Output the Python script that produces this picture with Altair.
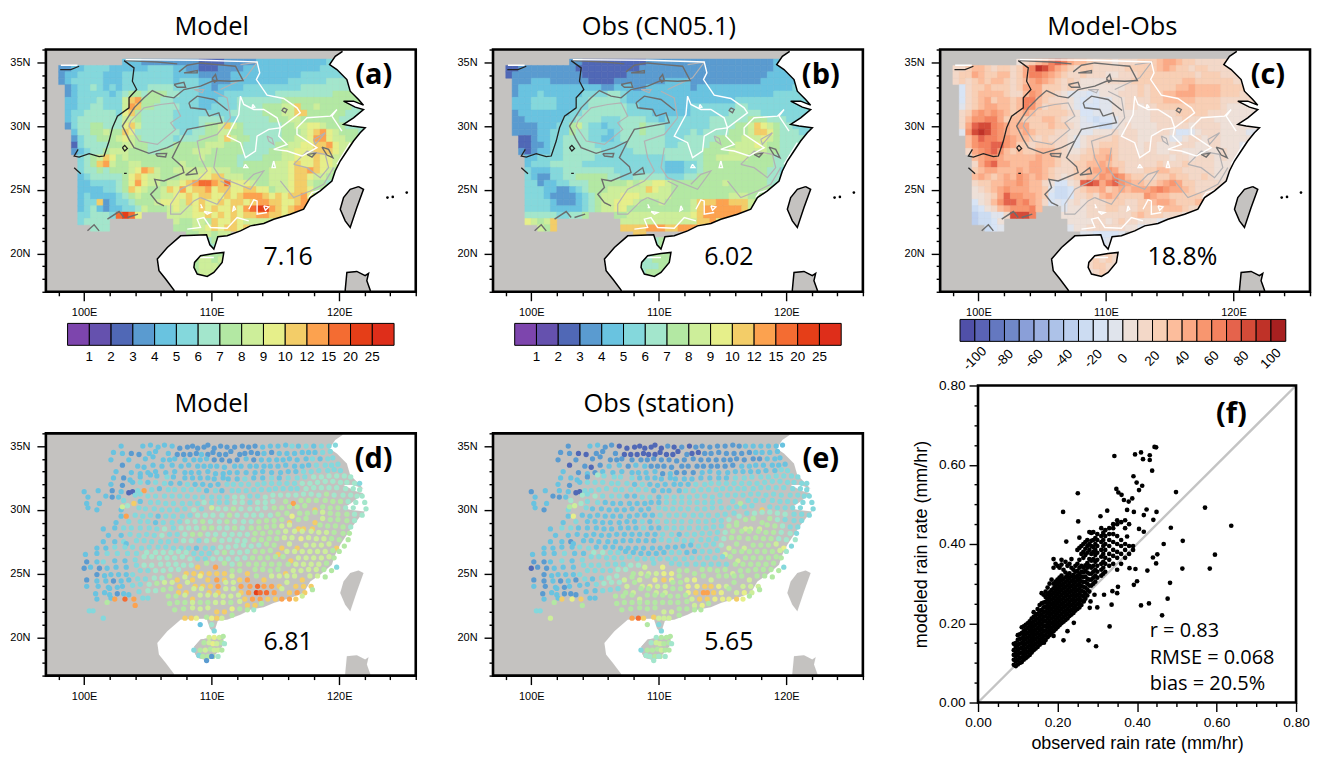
import altair as alt
import pandas as pd

# ---------- colour tables ----------
RAIN_COLORS = ["#7d45ad", "#6551ae", "#5068b6", "#5a9bd0", "#69c3e0", "#84d8dc", "#a3e6cc", "#b3e8a3",
               "#cdee9a", "#e6ef8a", "#f3cd68", "#fca24f", "#f46c32", "#e53e18", "#de2e1a"]
RAIN_LABELS = ["1", "2", "3", "4", "5", "6", "7", "8", "9", "10", "12", "15", "20", "25"]
DIFF_COLORS = ["#5050a8", "#5a63b5", "#6478c0", "#7088c8", "#8a9fd8", "#9cb0e0", "#adc2e8", "#bccfee",
               "#ccdcf2", "#d8e4f5", "#e0e4ec", "#eee0d8", "#f3d8c8", "#f8cfb5", "#fcbd9c", "#fba985",
               "#f8966f", "#f4825f", "#e5634c", "#d44b38", "#bf3228", "#a82020"]
DIFF_LABELS = ["-100", "-80", "-60", "-40", "-20", "0", "20", "40", "60", "80", "100"]
LAND = "#c4c2c0"

# ---------- gridded classes, 0.5 deg cells, rows from 35N going south, columns from 98E ----------
FIELD_A = [
".......... 4443333333 3322223333 3444444444 4455555555",
"3344555544 4444555544 3322233334 4444444444 4555555555",
"3445555444 5555555544 4433333444 4444444455 5555556666",
"3455555444 5555555545 5544333444 4444445555 5566666666",
".345565454 5555666655 5544344445 5555555566 6666666666",
".345555545 6776777665 5544445555 5555666666 6667777777",
".445556555 8ab7776655 5544455566 6666677777 7777777766",
".445566555 8ba7766665 5544555566 6677788a77 8777776666",
".455666665 9a76666655 5555555666 6677788aa7 7777766666",
".456666666 8876666655 5566665566 6667778877 7777666666",
".356677666 9a86666655 556778a876 6666677889 9877766666",
"..46677877 a966666665 5667788776 6666677789 ab98777666",
"..35667778 9876666656 667778a877 6666677889 bb98877666",
"..25666677 8877666677 7778887776 6666778899 aab9887766",
"..34566788 8777667777 7888777776 6667788999 aaa9887766",
"...5678a97 8777777777 7787777766 6677788999 a998877666",
"...567ab87 7887777778 7777777767 7777889a99 a998776666",
"...5667677 789ba87788 8889888777 7778889aab a987766666",
"...4566666 79a9887778 8899aa8887 7778889aa9 8877666666",
"...4455556 79b9887889 abccbac999 8778889aa8 7766666666",
"...4444556 7a98778a9b 9aab9aa99a a997889aa9 7766666666",
"...4544445 6787778899 a9aa99a9ab bba9a9aab9 7766666666",
"...455a345 5677789998 a9a99a9aa9 abbaa99abb 9777666666",
"...4564344 5568777898 89a9a99a9b cddba9abba 9877666666",
"...556665c dc9....888 899a9a9a9a abbaa9aa99 8666666666",
"...56666.. ........87 7887a99a98 8888888777 7777777777",
".....666.. ........77 7889a9aa9a 88777..... ..........",
".......... .......... 7788788... .......... ..........",
".......... .......... ...677.... .......... ..........",
".......... .......... ...566.... .......... ..........",
".......... .......... .6777777.. .......... ..........",
".......... .......... 77887877.. .......... ..........",
".......... .......... .78887777. .......... ..........",
".......... .......... .7888777.. .......... ..........",
".......... .......... ...77..... .......... ..........",
]
FIELD_B = [
".......... 3322222222 2233333333 3333333333 3344444444",
"2233333333 3222222222 2333333333 3333333333 3344444444",
"2333333333 3322222223 3333333333 3333333333 3444444444",
".333444333 3332222333 3333344443 3333333333 4444444555",
".344444444 4444433444 3344444443 4444444444 4444455555",
".344454444 4455556654 4444444444 4444444444 4455555555",
".444555544 4556666654 4444444444 4444445555 5555555555",
".444555544 4556666665 5444444445 5555556655 5555555555",
".344444444 5566666665 5554444445 5555566666 5555555555",
".334444445 5666655566 6655455555 5566666677 7666555555",
".333344455 7865545566 6766655555 556666778a 9876655555",
".333344555 7665554566 6766655556 566667778a a976665555",
"..22344556 6665544566 6666655566 6667777888 9876666555",
"..22334556 6666555556 6666655666 6677778889 8776666555",
"..32344556 6666655555 6666666666 6777788888 8776665555",
"...4455556 6666555555 5555566666 6778888877 7766655555",
"...4555666 6655555555 5555544455 6777777777 7766555555",
"...5444556 6666666555 5555544455 6777777777 7665555555",
"...5433556 6777776655 6666655566 7777777777 7665555555",
"...5534455 6667777778 7889987777 7777877777 7665555555",
"...5554433 4567778888 88a9887777 7777777777 7766665555",
"...5554333 3456788899 9888887777 7777788877 7666555555",
"...5555433 3456788999 8777877778 aaabbaaa88 7766555555",
"...5555444 4456788997 7777777778 abbbbbba88 7766666666",
"...6666655 667....778 8888888889 abbbbbbaa8 7666666666",
"...9878a.. ........88 8888888888 aab99..... ..........",
".....87a.. ........aa aabbbaabbb .......... ..........",
".......... .......... aa........ .......... ..........",
".......... .......... ...677.... .......... ..........",
".......... .......... ...677.... .......... ..........",
".......... .......... .6677777.. .......... ..........",
".......... .......... 66677777.. .......... ..........",
".......... .......... .66677777. .......... ..........",
".......... .......... .6777777.. .......... ..........",
".......... .......... ...77..... .......... ..........",
]
FIELD_C = [
".......... bcdefhihfe edcccbcccd ddeffeddcc cccccccccc",
"ccdeedcddc dfhkjhfedc ddcccccddd ddefeddcdd cccccccccc",
"cddfeddeec dfhhgfedcc dcccbbcccd ddddddddcd ddcccccccc",
"cdcdedeedc defgfedcdc bbbbccccdd ddddddeedd ddddcccccc",
".9cddedddc dfffdddcdc bbbbbbbccd cddddeefee eedddddccc",
".9cdeeeedc cegfddcbaa a9abbbcccd cddeefffee eedddccccc",
".9cdefdeed ehhedcccba 9a9aabbccc cddeeeeedd ddcccccccc",
".acdeffeed ehgecddcba 999aabbccb ccdddddddd ddcbbbbbbb",
".cdfgfgfed efedddddcb 99aaabbbbb bccccddddd cccbbbbbbb",
".cegghhfde edddeedcbb a9899abbbb bcccccdccc cbbbbbbbbb",
".cfijjhgfe ffdddeddcb aa988abcbb bbcccccbcc ccbbbbbbbb",
".agjkjhgfe efedddccbb aabbbcbccb bbccb99abc ccbbbbaaaa",
"..egihhggf eedcdcccba bccccdcccb bccbaabccb ccbbbbbaaa",
"..eghhiigf ddcdddccba bccdddcccb ccbbbcccbb ccbbbaaaaa",
"..cfghiged eddeeedcbb cddeedcccb ccbbccbbbb bbcbbaaaaa",
"...efggfee eeefeedccc ddeefdcccc ccccbccbcc cbcbbaaaaa",
"...cfhiffe eeffeedccd deefeddccc ccdcccdccc cbbbaaaaaa",
"...deffeee feffedcccd deffgfdccc ddeeddcccc cbbbaaaaaa",
"...efedefe gfefedcbcd deegfhgedd ccddeddccd cbbaaaaaaa",
"...cddeeff gfeecb99bc ijifhigfee ddefgfddcc ccbaaaaaaa",
"...bcdefgf ffeeda889c deefdefeff fghgffedcc ccbaaaaaaa",
"...bbcdfig gffed9889c cdcefedddd gfeedddddc cbbaaaaaaa",
"...9bcegii ghfec9a9bc bcccdddccd deffedddef dcaaaaaaaa",
"...89bcefg gghe...abb bcccddcccd dddeeedccc baaaaaaaaa",
"...788aacj jjh....bbb bcccccccde dddcccbbba aaaaaaaaaa",
"...7889b.. ........bb bbccbcdccb bbaaaaaaaa aaaaaaaaaa",
".....89a.. ........ab bccccccbba aa9....... ..........",
".......... .......... aa9999a... .......... ..........",
".......... .......... ...9ab.... .......... ..........",
".......... .......... ...9a..... .......... ..........",
".......... .......... .bccdc.... .......... ..........",
".......... .......... bcdcdcc... .......... ..........",
".......... .......... .cddccbb.. .......... ..........",
".......... .......... .bcdcbb... .......... ..........",
".......... .......... ...bb..... .......... ..........",
]

# ---------- stations: lat row -> tokens LLLL (lon x10) J (lat nudge) M (model class) O (obs class) ----------
STATIONS = {
35.0: "1029543 1046544 1052644 1058443 1063643 1069542 1075332 1081432 1085532 1089332 1094432 1097632 1102332 1107533 1112432 1118433 1124532 1129433 1134533 1140443 1146543 1152543 1158643 1163553 1168544 1174554 1180544 1186554 1192554 1197654",
34.5: "1023543 1030443 1037432 1043332 1051443 1056643 1066443 1073332 1078332 1083332 1088432 1092342 1097332 1101532 1106332 1111332 1115632 1122333 1126432 1131532 1136433 1141443 1147533 1153443 1159443 1165443 1171543 1176544 1181544 1187554 1193654",
34.0: "1021443 1035443 1048543 1054743 1062443 1067443 1071543 1079443 1086443 1091443 1096543 1102433 1108433 1114333 1120433 1127543 1133433 1139443 1145443 1151443 1156443 1161543 1167443 1174543 1179553 1185544 1191554 1195654",
33.5: "1030532 1042443 1047342 1054543 1061444 1069544 1076443 1082544 1089444 1094443 1099443 1104443 1110343 1118443 1123443 1130443 1135443 1141443 1146443 1152443 1158543 1165444 1171444 1176544 1182554 1189554 1194554 1199654",
33.0: "1025544 1037443 1044344 1050443 1056544 1064444 1071544 1079444 1084444 1090444 1097544 1103343 1109344 1114443 1120443 1127443 1134444 1140544 1147444 1154444 1160544 1166544 1172554 1178554 1184654 1191654 1196755 1201655",
32.5: "1023544 1031534 1036344 1044643 1052846 1057745 1065655 1070645 1079545 1085544 1091544 1097544 1102444 1109544 1113444 1120444 1126454 1133544 1140544 1147554 1153544 1160555 1167555 1173655 1180665 1186665 1192765 1198765 1204765 1209665",
32.0: "1021544 1030433 1038744 1044755 1050745 1056755 1063655 1068645 1075645 1081554 1087545 1093544 1099444 1105544 1112554 1117554 1123554 1129555 1136555 1141655 1147655 1153655 1159655 1165655 1171665 1177665 1183765 1189865 1195865 1201765 1206765 1212665 1216655",
31.5: "1000443 1011544 1022534 1029444 1035322 1038422 1042555 10475b5 1053655 1059745 1066655 1071655 1078655 1084655 1090655 1096544 1103554 1108544 1116554 1121555 1127555 1133655 1139655 1145655 1150755 1156755 1162755 1167755 1174765 1180865 1186865 1192865 1198865 1205765 1211765 1216665",
31.0: "1003544 1017643 1022533 1027544 1040756 1044855 1050656 1056655 1063655 1069655 1075654 1081654 1087555 1093555 1100554 1106555 1112555 1118565 1124565 1130655 1136655 1142565 1148765 1154765 1160765 1166765 1172865 1178865 1184765 1190875 1196765 1203765 1209765 1214665 1218665",
30.5: "1002544 1012544 1031856 10395a6 1044745 1052655 1058654 1064554 1070554 1077554 1083554 1089554 1094664 1100654 1106655 1112655 1118665 1124665 1130655 1136665 1142665 1148765 1158775 11645b7 1170875 1176875 1182875 1189875 1195775 1201775 1207765 1213665 1220665",
30.0: "1003744 1010543 1029545 1030887 1034968 1043755 1048654 1055654 1061554 1067554 1073554 1079654 1086564 1092654 1100785 1105665 1111665 1117675 1123665 1130665 1136665 1142765 1149775 1155775 1161875 1167875 1173975 11815aa 1187875 1193775 1199775 1205765 1211765 1221665",
29.5: "1029544 10335b9 1040654 1046554 1052654 1058544 1064554 1070554 1077554 1083654 1089664 1095664 1101665 1108665 1114675 1120665 1127665 1133665 1139665 1146665 1152775 1159875 1163596 1169875 1175876 1181976 1187986 1193876 1199776 1206775 1212765 1218665",
29.0: "1025544 1035655 1044654 1050654 1056544 1062554 1069554 1075654 1081664 1087665 1093674 1099665 1106665 1112675 1118665 1125665 1131665 1137675 1143775 1149775 1155876 11615a7 1168877 1174977 11815a7 1187987 1193876 1199875 1206775 1212765",
28.5: "1015544 1024645 1031655 1037654 1044654 1051654 1057554 1063564 1070654 1076664 1082664 1088665 1094674 1100674 1106665 1112665 1118675 1124665 1131675 1137675 1143775 1149875 1155887 1161987 11685a8 11725a8 11795a8 1185977 1191877 1197876 1203775 1209765",
28.0: "1019544 1029544 1036654 1043554 1049654 1055554 1061564 1067654 1073654 1079664 1085674 1091674 1097664 1103665 1110665 1116664 1122665 1128665 1134775 1140775 1146875 1152876 1158987 1165987 1171987 1178987 1184887 1190887 1196876 1203776 1208775",
27.5: "1015544 1024544 1031553 1033344 1041654 1047654 1053554 1060554 1066554 1072654 1078664 1084664 1090654 1096664 1102775 1108665 1114765 1120665 1126665 1133775 1139775 1145875 1151876 1157987 1163987 1170897 1176987 1182887 1188887 1194876 1200776 1207776",
27.0: "1010544 1017544 1024654 1032654 1038655 1045555 1051654 1058654 1064654 1070554 1076554 1082554 1088544 1095554 1101554 1107664 1113664 1119764 1125864 1131765 1137865 1143975 1149876 11555a8 1161987 11675a8 1174887 1180887 1186887 1192988 11985a9 1204775",
26.5: "1001544 1010644 1018654 1026655 1034654 1041654 1049766 1056766 1062765 1068765 1074864 1080764 1086654 1092654 1098654 1104764 1110775 1116765 1122764 1128864 1134875 1140875 1146975 11525a8 1159887 1165887 1171887 1177887 1183887 1189887 1195978 1200876",
26.0: "1002433 1010443 1015454 1024545 1032544 1040655 1047965 1053965 1059865 1065865 1071865 1077965 1083765 1089755 1095755 1101765 1107765 1113765 1120765 1126865 1132875 1138875 1144875 1150975 1156977 11625a8 1168887 1174887 1180887 1186887 1192987 1196877",
25.5: "1000432 1005543 1012433 1018444 1025544 1033544 1041755 1047765 1053765 1060865 1066865 1072865 1078766 1084766 10895a8 1096975 11035b9 1110975 1116865 1122875 1129875 1135875 1141875 1147875 1153875 1160877 1166887 1172887 1178887 1184887 1190977 1198555",
25.0: "1010433 1016344 1021444 1027444 1033444 1038455 1044855 1050855 1056865 1062865 1068966 1074966 10805a7 10865a8 10925a8 10985a8 11045a9 11105a9 1116877 1122877 11285a7 1134977 1140977 1146877 1152977 11585a8 1164887 1170887 1176987 1182987 1188977 1194877",
24.5: "1002533 1010443 1017444 1023433 1029444 1035543 1042655 1048654 1055765 1061766 1067976 10735a8 1079887 10855a8 1091997 10975a9 11045ba 11105a9 1116987 11225a8 11285b9 1135977 11415a8 1147987 1153987 1159987 1165987 11715a8 1177987 1183987 1189877",
24.0: "1002544 1011543 1019444 1020344 1026443 1030544 1038654 1044754 1051765 1057876 1063986 1069986 10755a8 1081987 10875a8 10935a9 10995a8 11055b8 1111987 1117987 11235b9 11305b9 11365ca 11415ba 11475b9 11535a8 1159987 11665a8 11725a8 11785a8",
23.5: "1009443 1016544 1020344 1026433 1031443 1035343 1043654 1050764 1056765 1062875 1068975 10745a7 10805a8 1086987 1092987 10985a8 11055a8 1111987 1117987 11235a9 11295ba 11355db 11385cb 11435ca 11495b9 1155987 11615a8 11675b9 11735a8 1179877",
23.0: "1010544 1021644 10245ba 10325c9 10395ba 1046654 1050654 1066877 1072877 1079987 10855a8 1091987 1097987 1103987 1109887 1115887 1121987 11265a8 11325ba 11385ba 11445a9 11505a9 11555b9 11615ba 11665a9 1171887",
22.5: "1018877 10405b7 1067777 1073877 1079877 1085887 1091877 1097877 1103887 1109887 1115877 1122987 11285a8 11345a9 1139777",
22.0: "1004655 1007655 1071777 1078877 1085987 1091887 1097987 11045a8 11105a8 1116897 1122877 1128777 1133767",
21.5: "1015558 10795ab 10845ac 108859a 109667a 1100598 11045a8 1108588 1116877",
21.0: "1091547 1100565",
20.5: "1102555",
20.0: "1098586 1102597 1106587 1109677",
19.5: "1094676 1098688 1101598 1104587 1108677 1110566",
19.0: "1086555 1091577 1095587 1099677 1102588 1105587 1108577",
18.5: "1090656 1093576 1097577 1101577 1105566 1096136 1100536",
}

# ---------- scatter (f): first token x, others y, in thousandths ----------
CLOUD = """090 095 108 120 132 148
095 092 104 116 128 140 150
100 096 108 120 132 145 158 170
105 100 112 124 136 148 160 172
110 102 114 126 138 150 162 175 190
115 108 120 132 144 156 168 180 192
120 112 124 136 148 160 172 184 196
125 116 128 140 152 164 176 188 200
130 120 132 144 156 168 180 192 205
135 126 138 150 162 174 186 198 212
140 132 144 156 168 180 192 204 216 228
145 136 148 160 172 184 196 208 220
150 140 152 164 176 188 200 212 224 236
155 146 158 170 182 194 206 218 230 246
160 150 162 174 186 198 210 222 234 250 276
165 156 168 180 192 204 216 228 240 252 272
170 158 170 182 194 206 218 230 242 254 266 280
175 165 177 189 201 213 225 237 249 261 273 290
180 170 182 194 206 218 230 242 254 266 278 300
185 176 188 200 212 224 236 248 260 272 284 310
190 180 192 204 216 228 240 252 264 276 288 300 340 362
195 185 197 209 221 233 245 257 269 281 293 305 350
200 190 202 214 226 238 250 262 274 286 298 310 345
205 195 207 219 231 243 255 267 279 291 303 315 340
210 200 212 224 236 248 260 272 284 296 308 320 348 360
215 204 216 228 240 252 264 276 288 300 312 335
220 208 220 232 244 256 268 280 292 304 316 328 355
225 212 224 236 248 260 272 284 296 308 320 345
230 218 230 242 254 266 278 290 302 314 326 350
235 222 234 246 258 270 282 294 306 318 340 362
240 226 238 250 262 274 286 298 310 322 335
245 232 244 256 268 280 292 304 316 330 345
250 236 248 260 272 284 296 308 320 332 350 385
255 240 252 264 276 288 300 312 324 340 360 390
260 246 258 270 282 294 306 318 330 345 375 395
265 256 268 280 292 304 316 328 340 365 380 400
270 262 276 290 304 318 332 346 372 388 405
275 270 285 300 312 328 340 352 378 395 410
280 280 295 310 325 345 362 385 400 430
285 295 310 325 340 358 375 395 408 428
290 300 315 330 345 362 380 392 410 430
295 305 320 335 355 372 385 400 415
300 315 330 345 360 378 395 410 425
310 320 335 350 368 385 405 420 440
315 325 340 355 375 395 410 428
320 330 350 365 385 400 420 435
330 345 360 375 395 410 425 440
340 350 370 385 405 425 440 450
350 335 365 380 400 420 450 460
360 350 375 395 410 455
370 365 385 400 440 460
380 375 395 450
390 385 395"""
OUTLIERS = [(.444,.645),(.448,.644),(.343,.622),(.395,.626),(.41,.631),(.432,.624),(.415,.614),(.432,.612),(.438,.585),(.391,.571),
 (.399,.555),(.413,.547),(.405,.536),(.251,.528),(.348,.539),(.353,.53),(.361,.524),(.367,.511),(.388,.515),(.379,.507),(.498,.531),
 (.571,.492),(.214,.481),(.325,.484),(.424,.487),(.449,.481),(.417,.473),(.392,.481),(.375,.486),(.308,.47),(.252,.457),(.441,.461),
 (.637,.446),(.485,.441),(.405,.438),(.417,.431),(.515,.408),(.467,.4),(.222,.406),(.255,.416),(.596,.373),(.44,.366),(.451,.374),
 (.448,.351),(.583,.338),(.514,.338),(.426,.333),(.396,.337),(.381,.339),(.483,.302),(.4,.306),(.392,.297),(.352,.292),(.338,.281),
 (.35,.276),(.477,.262),(.43,.25),(.41,.245),(.336,.247),(.3,.24),(.281,.239),(.463,.22),(.331,.192),(.278,.157),(.297,.142),(.215,.157),
 (.241,.201),(.225,.18),(.19,.168),(.166,.151),(.317,.272),(.293,.272),(.283,.255),(.266,.255),(.375,.419)]

# ---------- map outlines digitised on a grid of 38.35 units per degree (origin: 100E at 250, 35N at 183) ----------
COAST = [(1027,130),(1027,150),(1005,165),(988,190),(1010,205),(1040,235),(1050,270),(1075,295),(1090,312),(1060,300),(1030,300),(1065,318),(1090,325),
 (1060,350),(1030,370),(1055,375),(1095,380),(1080,395),(1060,420),(1040,450),(1020,480),(1005,510),(995,540),(960,570),(930,590),(910,625),(870,640),
 (820,655),(790,668),(750,675),(720,690),(680,705),(652,708),(645,730),(640,745)]
COAST2 = [(640,745),(628,732),(618,702),(580,703),(540,705),(500,740),(470,775),(475,810),(495,835),(520,868),(525,890)]
HAINAN = [(640,758),(670,755),(665,785),(640,815),(620,827),(590,820),(580,800),(582,785),(600,765),(640,758)]
TAIWAN = [(1075,557),(1090,565),(1070,620),(1050,680),(1035,660),(1020,625),(1030,590),(1050,565),(1075,557)]
LUZON = [(1035,890),(1035,868),(1040,815),(1070,812),(1095,825),(1105,818),(1100,840),(1110,868),(1115,890),(1035,890)]
SEA_CORNERS_A = [(1270,130)]
SEA_CORNERS_B = [(1270,890)]
ISLETS = [(1162,590),(1178,588),(1220,575)]

BLACK = [[(370,178),(400,200),(395,240),(408,265),(385,290),(385,320),(350,345),(335,380),(325,420),(310,465),(295,467),(265,458),(235,468),(220,465),(232,445)],
 [(178,205),(210,205),(235,195)],[(220,500),(240,518)],[(365,440),(372,433),(380,442),(372,450),(365,440)],[(370,517),(378,517)]]
DARK = [[(535,212),(560,192),(600,185),(650,190),(705,195),(728,238),(690,240),(640,238),(600,255),(550,265),(520,290),(490,285),(455,268),(430,290),(400,320),(365,375),(385,415),(400,440),(445,457),(500,440),(540,420),(560,385),(610,375),(665,365),(655,335),(625,345)],
 [(375,178),(470,182),(530,188)],[(565,305),(590,285),(640,295),(682,328)],[(625,345),(615,325),(570,320),(565,305)],
 [(540,420),(515,470),(545,497),(550,515),(490,540),(462,535),(470,560),(450,580),(470,605),(490,615)],
 [(465,458),(498,457),(495,468),(470,465),(465,458)],[(555,522),(585,500),(590,518),(555,522)],[(520,250),(550,243),(555,258),(530,258),(520,250)],
 [(635,232),(645,220),(650,238),(642,243),(635,232)],[(965,438),(985,445),(998,470),(980,462),(965,438)],[(920,460),(945,457),(935,468),(920,460)],
 [(550,215),(590,208),(590,215),(555,215)],[(260,690),(280,672),(295,690)],[(320,655),(355,632),(370,650)],[(380,650),(412,640)],
 [(850,320),(860,325),(855,335),(845,328),(850,320)]]
LIGHT = [[(390,360),(430,320),(480,310),(520,305),(540,345),(510,365),(525,385),(470,430),(415,420),(385,375),(390,360)],
 [(640,270),(680,290),(690,350),(650,400),(590,420),(600,470),(620,510),(590,540),(540,565),(510,610),(510,640),(540,640),(580,600),(600,590)],
 [(650,440),(640,500),(660,530),(700,545),(750,565),(790,510),(760,520),(730,550)],[(840,540),(880,590),(930,570),(970,550),(1000,500)],
 [(880,490),(920,450),(975,460),(985,500),(960,530),(920,500),(880,490)],[(940,415),(975,395),(945,430),(940,415)],[(660,540),(690,555),(650,610),(600,590)],
 [(720,190),(770,183),(735,230),(660,265)],[(800,405),(815,412),(820,430),(805,420),(800,405)],[(580,265),(610,265),(605,275),(580,265)]]
WHITE = [[(375,175),(600,177),(770,182),(778,215),(768,235),(800,282),(850,292),(890,320),(900,335),(840,380),(830,350),(790,325),(760,325),(730,310),(720,285),(715,340),(680,405),(720,425),(735,470),(765,450),(770,405),(805,385),(840,380),(835,405),(860,430),(820,445),(860,450),(905,465),(950,440),(890,400),(890,380),(920,350),(990,345),(1010,325),(995,345),(1025,390)],
 [(925,590),(935,575),(970,565)],[(1010,490),(1050,425)],[(560,685),(600,680),(590,655),(610,650),(630,680),(680,682),(710,650),(745,660)],
 [(745,625),(760,597),(770,600),(770,640),(800,635)],[(735,490),(742,500),(730,500),(735,490)],[(820,480),(825,500),(815,500),(820,480)],
 [(757,310),(763,318),(755,320),(757,310)],[(610,632),(630,635),(620,640),(610,632)],[(700,615),(705,625),(697,630),(700,615)],[(600,610),(605,620),(600,620)],
 [(790,615),(805,618),(795,628),(790,615)],[(180,192),(230,192)],[(590,770),(640,770)]]

W, H = 371, 243
F_INSET = 38          # room left of panel (f)'s frame, inside its view
F_FRAME = 319
FW, FH = F_FRAME + F_INSET, 318
TEXT_FONT = "Open Sans"
AXIS_FONT = "Liberation Sans"

XS = alt.Scale(domain=[97, 126], nice=False, zero=False)
YS = alt.Scale(domain=[17, 36], nice=False, zero=False)
FSX = alt.Scale(domain=[-0.8 * F_INSET / F_FRAME, 0.8], nice=False, zero=False)
FSY = alt.Scale(domain=[0, 0.8], nice=False, zero=False)
X_AXIS = alt.Axis(values=list(range(98, 127, 2)), title=None, domain=False, grid=False, tickColor="black", tickWidth=1.4,
                  tickSize={"condition": {"test": "datum.value % 10 == 0", "value": 9}, "value": 4},
                  labelExpr="datum.value % 10 == 0 ? datum.value + 'E' : ''", labelFont=AXIS_FONT, labelFontSize=11,
                  labelColor="black", labelPadding=6, labelOverlap=False, labelFlush=False)
Y_AXIS = alt.Axis(values=list(range(17, 37)), title=None, domain=False, grid=False, tickColor="black", tickWidth=1.4,
                  tickSize={"condition": {"test": "datum.value % 5 == 0", "value": 9}, "value": 4},
                  labelExpr="datum.value % 5 == 0 ? datum.value + 'N' : ''", labelFont=AXIS_FONT, labelFontSize=11,
                  labelColor="black", labelPadding=7, labelOverlap=False)


def deg(pts):
    return [(100 + (x - 250) / 38.35, 35 - (y - 183) / 38.35) for x, y in pts]


def ex(f="lon"):
    return alt.X(f"{f}:Q", scale=XS, axis=X_AXIS)


def ey(f="lat"):
    return alt.Y(f"{f}:Q", scale=YS, axis=Y_AXIS)


def box(color=None):
    df = pd.DataFrame([{"lon": 97, "lon2": 126, "lat": 17, "lat2": 36}])
    if color:
        m = alt.Chart(df).mark_rect(color=color)
    else:
        m = alt.Chart(df).mark_rect(filled=False, stroke="black", strokeWidth=2.6)
    return m.encode(x=ex(), x2="lon2:Q", y=ey(), y2="lat2:Q")


def polygon(pts, fill):
    df = pd.DataFrame([{"i": i, "lon": a, "lat": b} for i, (a, b) in enumerate(deg(pts))])
    return alt.Chart(df).mark_line(fill=fill, stroke=fill, strokeWidth=0.1, clip=True, interpolate="linear").encode(
        x=ex(), y=ey(), order="i:Q")


def lines(groups, color, width):
    rows = []
    for g, pts in enumerate(groups):
        for i, (a, b) in enumerate(deg(pts)):
            rows.append({"g": g, "i": i, "lon": a, "lat": b})
    return alt.Chart(pd.DataFrame(rows)).mark_line(color=color, strokeWidth=width, clip=True).encode(
        x=ex(), y=ey(), detail="g:N", order="i:Q")


def cells(rows, colors):
    recs = []
    for k, row in enumerate(rows):
        for j, c in enumerate(row.replace(" ", "")):
            if c == ".":
                continue
            lon = 98 + 0.5 * j
            top = 35.25 - 0.5 * k
            recs.append({"lon": lon, "lon2": lon + 0.5, "lat": top - 0.5, "lat2": top, "hex": colors[int(c, 36)]})
    return alt.Chart(pd.DataFrame(recs)).mark_rect(strokeWidth=0.5, clip=True).encode(
        x=ex(), x2="lon2:Q", y=ey(), y2="lat2:Q",
        color=alt.Color("hex:N", scale=None), stroke=alt.Stroke("hex:N", scale=None))


def text(label, lon, lat, size, font=TEXT_FONT, weight="normal", align="center"):
    df = pd.DataFrame([{"t": label, "lon": lon, "lat": lat}])
    return alt.Chart(df).mark_text(fontSize=size, font=font, fontWeight=weight, align=align, baseline="middle",
                                   color="black").encode(x=ex(), y=ey(), text="t:N")


def colorbar(colors, labels, lon0, lon1, lat0, lat1, lat_lab, step, size, angle=None):
    n = len(colors)
    w = (lon1 - lon0) / n
    recs = [{"lon": lon0 + i * w, "lon2": lon0 + (i + 1) * w, "lat": lat0, "lat2": lat1, "hex": colors[i]} for i in range(n)]
    bar = alt.Chart(pd.DataFrame(recs)).mark_rect(stroke="black", strokeWidth=1).encode(
        x=ex(), x2="lon2:Q", y=ey(), y2="lat2:Q", color=alt.Color("hex:N", scale=None))
    kw = {"angle": angle} if angle is not None else {}
    labs = pd.DataFrame([{"t": t, "lon": lon0 + (1 + i * step) * w, "lat": lat_lab} for i, t in enumerate(labels)])
    lab = alt.Chart(labs).mark_text(fontSize=size, font=AXIS_FONT, color="black", baseline="middle", **kw).encode(
        x=ex(), y=ey(), text="t:N")
    return [bar, lab]


SEA = SEA_CORNERS_A + COAST + HAINAN + COAST2 + SEA_CORNERS_B


def islets():
    df = pd.DataFrame([{"lon": a, "lat": b} for a, b in deg(ISLETS)])
    return alt.Chart(df).mark_circle(size=7, color="black", opacity=1).encode(x=ex(), y=ey())


def field_panel(title, label, number, num_lon, title_lon, rows, colors, bar):
    return alt.layer(
        box(color=LAND), cells(rows, colors), polygon(SEA, "white"), polygon(TAIWAN, LAND), polygon(LUZON, LAND),
        lines(LIGHT, "#b3b1b3", 1.2), lines(DARK, "#6d6d6d", 1.4), lines(WHITE, "white", 1.4), lines(BLACK, "#222222", 1.3),
        lines([COAST[1:] + COAST2, HAINAN, TAIWAN, LUZON], "black", 1.5), islets(),
        box(), *bar,
        text(title, title_lon, 37.8, 25.5), text(label, 122.7, 34, 29, weight="bold"), text(number, num_lon, 19.75, 25),
    ).properties(width=W, height=H)


def station_panel(title, label, number, num_lon, idx):
    recs = []
    for lat, tokens in STATIONS.items():
        for t in tokens.split():
            if len(t) == 7:
                recs.append({"lon": int(t[:4]) / 10, "lat": lat + (int(t[4]) - 5) * 0.08, "hex": RAIN_COLORS[int(t[idx], 16)]})
    pts = alt.Chart(pd.DataFrame(recs)).mark_circle(size=28, opacity=1).encode(
        x=ex(), y=ey(), color=alt.Color("hex:N", scale=None))
    return alt.layer(
        box(color=LAND), polygon(SEA, "white"), polygon(HAINAN, LAND), polygon(TAIWAN, LAND), polygon(LUZON, LAND), pts,
        box(), text(title, 110, 38.3, 25.5), text(label, 122.7, 34, 29, weight="bold"), text(number, num_lon, 19.65, 25),
    ).properties(width=W, height=H)


bar_a = colorbar(RAIN_COLORS, RAIN_LABELS, 98.7, 124.3, 14.52, 12.8, 11.86, 1, 13.5)
bar_b = colorbar(RAIN_COLORS, RAIN_LABELS, 98.7, 124.3, 14.52, 12.8, 11.86, 1, 13.5)
bar_c = colorbar(DIFF_COLORS, DIFF_LABELS, 98.56, 124.1, 14.83, 13.11, 11.75, 2, 13.5, angle=315)

a = field_panel("Model", "(a)", "7.16", 116, 110, FIELD_A, RAIN_COLORS, bar_a)
b = field_panel("Obs (CN05.1)", "(b)", "6.02", 115.5, 110, FIELD_B, RAIN_COLORS, bar_b)
c = field_panel("Model-Obs", "(c)", "18.8%", 116, 110.5, FIELD_C, DIFF_COLORS, bar_c)
d = station_panel("Model", "(d)", "6.81", 116, 5)
e = station_panel("Obs (station)", "(e)", "5.65", 115.5, 6)

# ---------- panel f ----------
pts = list(OUTLIERS)
for line in CLOUD.splitlines():
    vals = [int(v) / 1000 for v in line.split()]
    pts += [(vals[0], y) for y in vals[1:]]
scatter_df = pd.DataFrame(pts, columns=["obs", "mod"])
TICKS_F = [round(i * 0.05, 2) for i in range(17)]


def f_axis(title, pad, **kw):
    return alt.Axis(values=TICKS_F, title=title, domain=False, grid=False, tickColor="black", tickWidth=1.4,
                    tickSize={"condition": {"test": "round(datum.value * 100) % 20 == 0", "value": 9}, "value": 4},
                    labelExpr="round(datum.value * 100) % 20 == 0 ? format(datum.value, '.2f') : ''",
                    labelFont=AXIS_FONT, labelFontSize=13.7, labelColor="black", labelPadding=4, labelOverlap=False,
                    labelFlush=False, titleFont=AXIS_FONT, titleFontSize=18, titleFontWeight="normal", titleColor="black",
                    titlePadding=pad, **kw)


fx = alt.X("obs:Q", scale=FSX, axis=f_axis("observed rain rate (mm/hr)", 5, titleX=F_INSET + F_FRAME / 2))
fy = alt.Y("mod:Q", scale=FSY, axis=f_axis("modeled rain rate (mm/hr)", 8, offset=-F_INSET))
diag = alt.Chart(pd.DataFrame({"obs": [0, 0.8], "mod": [0, 0.8]})).mark_line(color="#c4c4c4", strokeWidth=2.4).encode(x=fx, y=fy)
dots = alt.Chart(scatter_df).mark_circle(size=22, color="black", opacity=1).encode(x=fx, y=fy)
frame_f = alt.Chart(pd.DataFrame([{"obs": 0, "o2": 0.8, "mod": 0, "m2": 0.8}])).mark_rect(
    filled=False, stroke="black", strokeWidth=2.6).encode(x=fx, x2="o2:Q", y=fy, y2="m2:Q")


def ftext(t, x, y, size, weight="normal"):
    df = pd.DataFrame([{"t": t, "obs": x, "mod": y}])
    return alt.Chart(df).mark_text(fontSize=size, font=TEXT_FONT, fontWeight=weight, align="left" if weight == "normal" else "center",
                                   baseline="middle", color="black").encode(x=fx, y=fy, text="t:N")


f = alt.layer(diag, dots, frame_f, ftext("(f)", 0.6375, 0.729, 29, "bold"), ftext("r = 0.83", 0.432, 0.18, 20),
              ftext("RMSE = 0.068", 0.432, 0.113, 20), ftext("bias = 20.5%", 0.432, 0.046, 20)
              ).properties(width=FW, height=FH)

col1 = alt.vconcat(a, d, spacing=27)
col2 = alt.vconcat(b, e, spacing=27)
col3 = alt.vconcat(c, f, spacing=5)
chart = alt.hconcat(col1, col2, col3, spacing=38.5).properties(
    padding={"left": 1, "top": 4.5, "right": 0, "bottom": 0}, background="white"
).configure_view(stroke=None)

chart.save("out.html", embed_options={"renderer": "svg", "actions": False})
